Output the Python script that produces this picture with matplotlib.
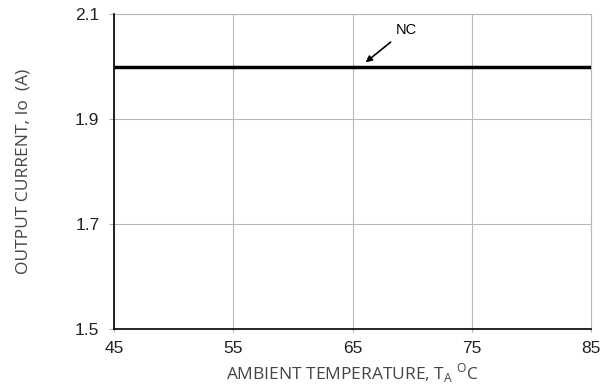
import matplotlib
matplotlib.use('Agg')
import matplotlib.pyplot as plt

# data
temp = [45, 85]
current_nc = [2.0, 2.0]
xticks = [45, 55, 65, 75, 85]
yticks = [1.5, 1.7, 1.9, 2.1]

fig = plt.figure(figsize=(6.08, 3.89), dpi=100)
ax = fig.add_axes([114/608, 1-329/389, 477/608, 315/389])

ax.plot(temp, current_nc, color='k', linewidth=2.5, solid_capstyle='butt', zorder=3)

ax.set_xlim(45, 85)
ax.set_ylim(1.5, 2.1)
ax.set_xticks(xticks)
ax.set_yticks(yticks)
ax.set_xticklabels([str(t) for t in xticks], family='Liberation Sans', fontsize=12.5, color='#222222')
ax.set_yticklabels(['%.1f' % v for v in yticks], family='Liberation Sans', fontsize=12.5, color='#222222')
ax.tick_params(axis='y', length=3.5, width=0.8, color='#b0b0b0', pad=7)
ax.tick_params(axis='x', length=2.5, width=0.8, color='#b0b0b0', pad=6)
ax.grid(True, color='#b8b8b8', linewidth=0.8)

for s in ['top', 'right']:
    ax.spines[s].set_color('#b8b8b8')
    ax.spines[s].set_linewidth(0.8)
for s in ['left', 'bottom']:
    ax.spines[s].set_color('k')
    ax.spines[s].set_linewidth(1.2)
    ax.spines[s].set_zorder(4)

ax.annotate('NC', xy=(66.1, 2.008), xytext=(68.6, 2.07),
            family='Liberation Sans', fontsize=10.5, va='center', ha='left',
            arrowprops=dict(arrowstyle='-|>', color='k', lw=1.2,
                            shrinkA=3, shrinkB=0, mutation_scale=9))

ax.set_xlabel('AMBIENT TEMPERATURE, T$_{\\mathregular{A}}$ $^{\\mathregular{O}}$C',
              family='Open Sans', fontsize=12.5, color='#444444')
ax.set_ylabel('OUTPUT CURRENT, Io  (A)', family='Open Sans', fontsize=12.5,
              color='#444444')
ax.xaxis.set_label_coords(0.5, -32/315, transform=ax.transAxes)
ax.yaxis.set_label_coords(-82/477, 0.5, transform=ax.transAxes)

plt.savefig('out.png', dpi=100)
